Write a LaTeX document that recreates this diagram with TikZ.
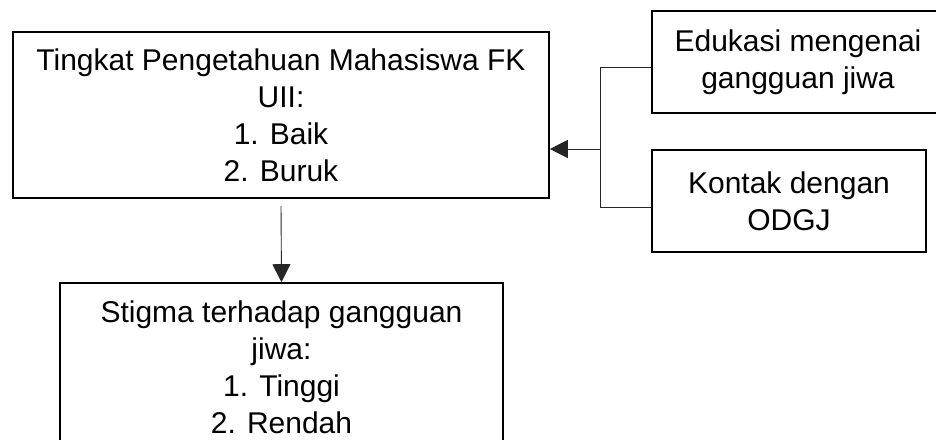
\documentclass[tikz,border=0pt]{standalone}
\usepackage{fontspec}
\setmainfont{Liberation Sans}
\usetikzlibrary{arrows.meta}
\begin{document}
\begin{tikzpicture}[x=1pt,y=-1pt,
  box/.style={draw=black, line width=1.6pt, align=center, inner sep=0pt,
    font=\fontsize{30}{37}\selectfont},
  link/.style={draw=black!85, line width=0.9pt},
  arr/.style={link, -{Triangle[length=18pt,width=18pt]}}]
\clip (0,0) rectangle (936,439);
\useasboundingbox (0,0) rectangle (936,439);
\node[box, minimum width=536pt, minimum height=166pt] (b1) at (281,115)
  {Tingkat Pengetahuan Mahasiswa FK\\UII:\\1. Baik\\2. Buruk};
\node[box, minimum width=443pt, minimum height=168pt] (b2) at (281.5,367)
  {Stigma terhadap gangguan\\jiwa:\\1. Tinggi\\2. Rendah};
\node[box, minimum width=292pt, minimum height=102pt] (edu) at (798,62)
  {Edukasi mengenai\\gangguan jiwa};
\node[box, minimum width=274pt, minimum height=102pt] (kon) at (789,201)
  {Kontak dengan\\ODGJ};
\coordinate (j) at (600,149);
\draw[link] ([yshift=-5pt]edu.west) -| (j);
\draw[link] ([yshift=-6pt]kon.west) -| (j);
\draw[arr] (j) -- (j -| b1.east);
\draw[arr] ([yshift=-7pt]b1.south) -- (b2.north);
\end{tikzpicture}
\end{document}
